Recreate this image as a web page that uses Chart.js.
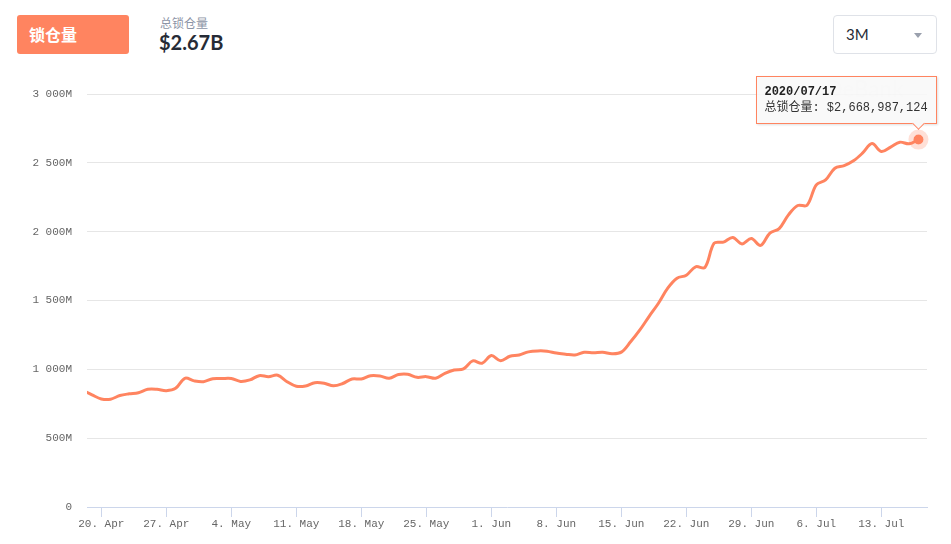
<!DOCTYPE html>
<html>
<head>
<meta charset="utf-8">
<script src="https://cdn.jsdelivr.net/npm/chart.js@4.4.0/dist/chart.umd.min.js"></script>
<style>
  body { margin: 0; width: 951px; height: 544px; background: #fff; position: relative; overflow: hidden; font-family: Lato, "Noto Sans CJK SC", sans-serif; }
  .btn { position: absolute; left: 17px; top: 15px; width: 112px; height: 39px; background: #ff8460; border-radius: 3px;
         color: #fff; font: bold 16px "Noto Sans CJK SC", sans-serif; line-height: 39px; box-sizing: border-box; padding-left: 12px; }
  .sub { position: absolute; left: 160px; top: 14px; font: 12px "Noto Sans CJK SC", sans-serif; color: #8c94a6; }
  .big { position: absolute; left: 159px; top: 30px; font: bold 20px Lato, sans-serif; color: #262b36; }
  .sel { position: absolute; left: 833px; top: 15px; width: 104px; height: 39px; box-sizing: border-box; border: 1px solid #dfe2e8; border-radius: 4px;
         font: 15px Lato, sans-serif; color: #262b36; line-height: 37px; padding-left: 12px; }
  .sel .caret { position: absolute; right: 14px; top: 17px; width: 0; height: 0; border-left: 4px solid transparent; border-right: 4px solid transparent; border-top: 5px solid #9aa0ad; }
  #wrap { position: absolute; left: 0; top: 60px; width: 951px; height: 484px; }
  #tip { position: absolute; background: rgba(248,248,248,0.88); border: 1px solid #ff8460; padding: 7px 8px 7px 7px;
         font: 12px "Liberation Mono", "Noto Sans CJK SC", monospace; color: #333; line-height: 16px; white-space: nowrap;
         box-shadow: 1px 1px 2px rgba(0,0,0,0.12); opacity: 0; }
  #tip b { color: #222; }
  #tip .arrow { position: absolute; width: 8px; height: 8px; background: #f8f8f8; border-right: 1px solid #ff8460; border-bottom: 1px solid #ff8460;
                transform: rotate(45deg); bottom: -5px; }
</style>
</head>
<body>
<div class="btn">锁仓量</div>
<div class="sub">总锁仓量</div>
<div class="big">$2.67B</div>
<div class="sel">3M<span class="caret"></span></div>
<div id="wrap"><canvas id="chartTvl"></canvas></div>
<div id="tip"></div>
<script>
// day offsets are counted from 20 Apr 2020; first value is 18 Apr
const firstDay = -2;
const tvlMillions = [
  848, 815, 785, 783, 810, 822, 830, 855, 855, 845,
  862, 935, 916, 910, 932, 933, 933, 912, 923, 954,
  947, 957, 910, 877, 879, 903, 899, 880, 897, 930,
  930, 954, 952, 936, 962, 964, 942, 947, 935, 970,
  995, 1003, 1061, 1044, 1100, 1063, 1095, 1104, 1127, 1134,
  1132, 1118, 1110, 1104, 1124, 1121, 1124, 1114, 1125, 1200,
  1286, 1385, 1480, 1590, 1662, 1684, 1745, 1740, 1916, 1924,
  1957, 1911, 1950, 1900, 1990, 2022, 2122, 2190, 2192, 2340,
  2376, 2461, 2480, 2515, 2572, 2640, 2582, 2614, 2650, 2638,
  2668.987124
];
const xTickDays = [0, 7, 14, 21, 28, 35, 42, 49, 56, 63, 70, 77, 84];
const xTickLabels = ["20. Apr", "27. Apr", "4. May", "11. May", "18. May", "25. May", "1. Jun",
                     "8. Jun", "15. Jun", "22. Jun", "29. Jun", "6. Jul", "13. Jul"];
const yTicks = [0, 500, 1000, 1500, 2000, 2500, 3000];

const coral = "#ff8460";
const points = tvlMillions.map((v, i) => ({ x: firstDay + i, y: v }));

function dayToDate(d) {
  const dt = new Date(Date.UTC(2020, 3, 20) + d * 86400000);
  const p = n => String(n).padStart(2, "0");
  return dt.getUTCFullYear() + "/" + p(dt.getUTCMonth() + 1) + "/" + p(dt.getUTCDate());
}
function spaced(n) {
  return String(n).replace(/\B(?=(\d{3})+(?!\d))/g, " ");
}

const halo = {
  id: "halo",
  afterDatasetsDraw(chart) {
    const act = chart.getActiveElements();
    if (!act.length) return;
    const el = act[0].element, ctx = chart.ctx;
    ctx.save();
    ctx.beginPath();
    ctx.arc(el.x, el.y, 10, 0, Math.PI * 2);
    ctx.arc(el.x, el.y, 5, 0, Math.PI * 2, true);
    ctx.fillStyle = "rgba(255,132,96,0.25)";
    ctx.fill();
    ctx.restore();
  }
};
const watermark = {
  id: "watermark",
  beforeDatasetsDraw(chart) {
    const ctx = chart.ctx;
    ctx.save();
    ctx.font = "bold 22px Lato, sans-serif";
    ctx.fillStyle = "rgba(0,0,0,0.045)";
    ctx.textBaseline = "middle";
    ctx.fillText("DeBank", 826, 30);
    ctx.restore();
  }
};

function externalTip(context) {
  const tt = context.tooltip;
  const tip = document.getElementById("tip");
  if (tt.opacity === 0) { tip.style.opacity = 0; return; }
  tip.innerHTML = "<b>" + tt.title[0] + "</b><br>" + tt.body[0].lines[0] + '<div class="arrow"></div>';
  tip.style.opacity = 1;
  const top = context.chart.canvas.offsetParent.offsetTop;
  const cx = tt.caretX, cy = tt.caretY + top;
  const w = tip.offsetWidth, h = tip.offsetHeight;
  const right = cx + 18;
  tip.style.left = (right - w) + "px";
  tip.style.top = (cy - 16 - h) + "px";
  tip.querySelector(".arrow").style.left = (w - 18 - 5) + "px";
}

Chart.defaults.font.family = "'Liberation Mono', monospace";
Chart.defaults.font.size = 11;
Chart.defaults.color = "#666";

const chartTvl = new Chart("chartTvl", {
  type: "line",
  data: {
    datasets: [
      {
        label: "总锁仓量",
        data: points,
        borderColor: coral,
        borderWidth: 3,
        tension: 0.35,
        pointRadius: 0,
        pointHoverRadius: 5,
        pointHoverBorderWidth: 0,
        pointHoverBackgroundColor: coral,
        fill: false,
      },
    ],
  },
  options: {
    responsive: true,
    maintainAspectRatio: false,
    animation: false,
    events: [],
    layout: { padding: { left: 0, right: 24, top: 34, bottom: 0 } },
    plugins: {
      legend: { display: false },
      tooltip: {
        enabled: false,
        external: externalTip,
        callbacks: {
          title: items => dayToDate(items[0].parsed.x),
          label: item => "总锁仓量: $" + Math.round(item.parsed.y * 1e6).toLocaleString("en-US"),
        },
      },
    },
    scales: {
      x: {
        type: "linear",
        min: -1.54,
        max: 88.92,
        afterFit: s => { s.height = 37; },
        afterBuildTicks: s => { s.ticks = xTickDays.map(v => ({ value: v })); },
        grid: {
          drawOnChartArea: false,
          drawTicks: true,
          tickLength: 10,
          color: "#ccd6eb",
        },
        border: { display: true, color: "#ccd6eb" },
        ticks: {
          autoSkip: false,
          maxRotation: 0,
          padding: 0,
          color: "#666",
          callback: v => xTickLabels[xTickDays.indexOf(v)],
        },
      },
      y: {
        min: 0,
        max: 3000,
        afterFit: s => { s.width = 87; },
        afterBuildTicks: s => { s.ticks = yTicks.map(v => ({ value: v })); },
        grid: {
          drawTicks: false,
          color: c => (c.tick && c.tick.value === 0 ? "rgba(0,0,0,0)" : "#e6e6e6"),
        },
        border: { display: false },
        ticks: {
          padding: 15,
          color: "#666",
          callback: v => (v === 0 ? "0" : spaced(v) + "M"),
        },
      },
    },
  },
  plugins: [watermark, halo],
});

const lastIdx = tvlMillions.length - 1;
chartTvl.setActiveElements([{ datasetIndex: 0, index: lastIdx }]);
chartTvl.tooltip.setActiveElements([{ datasetIndex: 0, index: lastIdx }], { x: 0, y: 0 });
chartTvl.update();
</script>
</body>
</html>
